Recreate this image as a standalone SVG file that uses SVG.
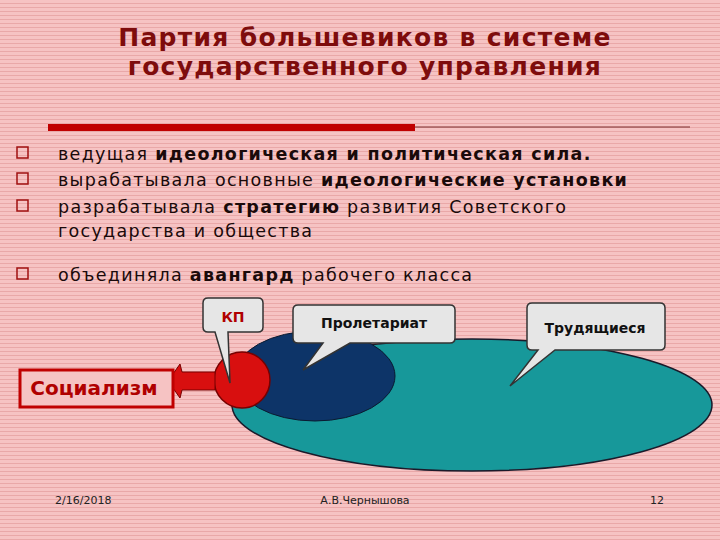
<svg xmlns="http://www.w3.org/2000/svg" width="720" height="540" viewBox="0 0 720 540">
<defs>
<pattern id="bg" width="6" height="4" patternUnits="userSpaceOnUse"><rect width="6" height="4" fill="#f6c3c3"/><rect y="3" width="6" height="1" fill="#e9a8a8"/></pattern>
<style>
.t{font-family:"DejaVu Sans",sans-serif;font-size:17.5px;letter-spacing:1.3px;fill:#1a0a0a}
.b{font-weight:bold}
.bul{fill:none;stroke:#a01010;stroke-width:1.5}
.call{fill:#e6e6e6;stroke:#333;stroke-width:1.5}
.lbl{font-family:"DejaVu Sans",sans-serif;font-weight:bold;font-size:14px}
.ft{font-family:"DejaVu Sans",sans-serif;font-size:11px;fill:#222}
</style>
</defs>
<rect width="720" height="540" fill="url(#bg)"/>
<g id="title" font-family="DejaVu Sans,sans-serif" font-weight="bold" font-size="25" letter-spacing="1.3" fill="#7e0c0c" text-anchor="middle">
<text x="365" y="46">Партия большевиков в системе</text>
<text x="365" y="75">государственного управления</text>
</g>
<rect x="48" y="124" width="367" height="7" fill="#c00000"/>
<line x1="415" y1="127" x2="690" y2="127" stroke="#7a2a2a" stroke-width="1"/>
<g id="bullets">
<rect class="bul" x="17" y="147" width="11" height="11"/>
<rect class="bul" x="17" y="173" width="11" height="11"/>
<rect class="bul" x="17" y="200" width="11" height="11"/>
<rect class="bul" x="17" y="268" width="11" height="11"/>
<text class="t" x="58" y="160">ведущая <tspan class="b">идеологическая и политическая сила.</tspan></text>
<text class="t" x="58" y="186">вырабатывала основные <tspan class="b">идеологические установки</tspan></text>
<text class="t" x="58" y="213">разрабатывала <tspan class="b">стратегию</tspan> развития Советского</text>
<text class="t" x="58" y="237">государства и общества</text>
<text class="t" x="58" y="281">объединяла <tspan class="b">авангард</tspan> рабочего класса</text>
</g>
<g id="workers"><ellipse cx="472" cy="405" rx="240" ry="66" fill="#17989a" stroke="#1a1a2a" stroke-width="1.5"/></g>
<g id="proletariat"><ellipse cx="315" cy="376" rx="80" ry="45" fill="#0d3468" stroke="#0a1a30" stroke-width="1"/></g>
<g id="kp"><circle cx="242" cy="380" r="28" fill="#d80f0f" stroke="#700" stroke-width="1.5"/></g>
<g id="connectors">
<path d="M215,372 L182,372 L180,364 L168,381 L180,398 L182,390 L215,390 Z" fill="#d80f0f" stroke="#700" stroke-width="1"/>
</g>
<g id="socialism">
<rect x="20" y="370" width="153" height="37" fill="#f6c3c3" stroke="#c00000" stroke-width="3"/>
<text x="94" y="395" text-anchor="middle" font-family="DejaVu Sans,sans-serif" font-weight="bold" font-size="20" fill="#b00000">Социализм</text>
</g>
<g id="callout-kp">
<path class="call" d="M208,298 H258 Q263,298 263,303 V327 Q263,332 258,332 H228 L230,383 L215,332 H208 Q203,332 203,327 V303 Q203,298 208,298 Z"/>
<text class="lbl" x="233" y="322" text-anchor="middle" fill="#b00000">КП</text>
</g>
<g id="callout-proletariat">
<path class="call" d="M298,305 H450 Q455,305 455,310 V338 Q455,343 450,343 H350 L303,370 L323,343 H298 Q293,343 293,338 V310 Q293,305 298,305 Z"/>
<text class="lbl" x="374" y="328" text-anchor="middle" fill="#111">Пролетариат</text>
</g>
<g id="callout-workers">
<path class="call" d="M532,303 H660 Q665,303 665,308 V345 Q665,350 660,350 H555 L510,386 L538,350 H532 Q527,350 527,345 V308 Q527,303 532,303 Z"/>
<text class="lbl" x="595" y="333" text-anchor="middle" fill="#111">Трудящиеся</text>
</g>
<g id="footer">
<text class="ft" x="55" y="504">2/16/2018</text>
<text class="ft" x="365" y="504" text-anchor="middle">А.В.Чернышова</text>
<text class="ft" x="664" y="504" text-anchor="end">12</text>
</g>
</svg>
